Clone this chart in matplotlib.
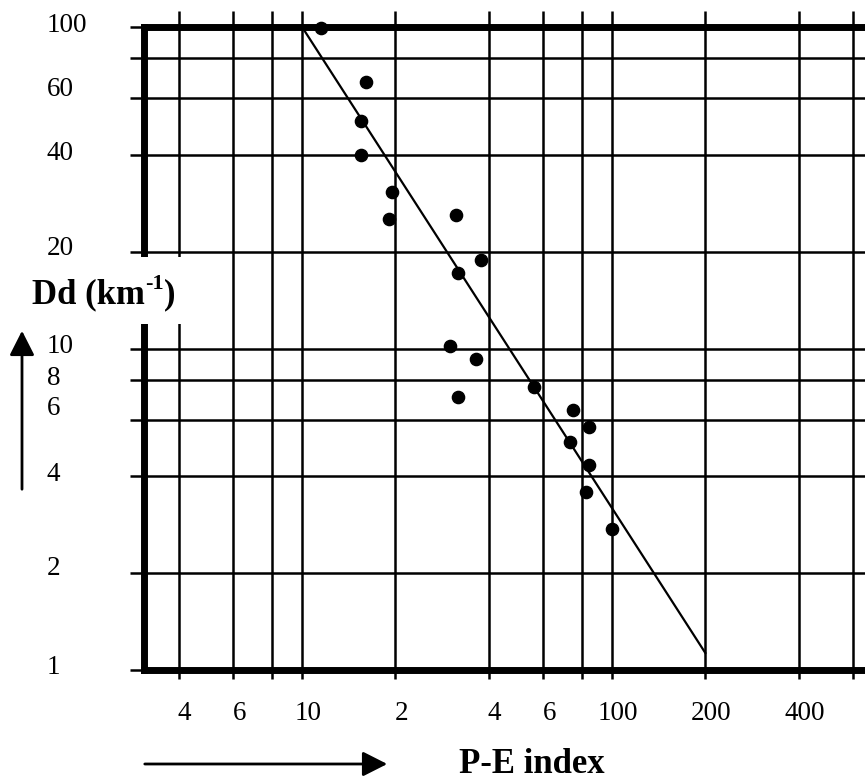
import numpy as np
import matplotlib
matplotlib.use("Agg")
import matplotlib.pyplot as plt
import matplotlib.transforms as mtransforms
from matplotlib.patches import Rectangle, FancyArrowPatch

plt.rcParams['font.family'] = ['Liberation Serif', 'DejaVu Serif']

# P-E index vs drainage density (Dd)
pe_index = [11.5, 16.1, 15.5, 15.5, 19.5, 19.1, 31.4, 37.8, 31.9, 30.0,
            36.4, 31.9, 56.0, 74.8, 84.3, 73.3, 84.3, 82.4, 100.0]
dd = [99.0, 67.5, 51.0, 40.0, 30.7, 25.2, 26.1, 18.9, 17.2, 10.2,
      9.3, 7.05, 7.57, 6.42, 5.68, 5.11, 4.33, 3.57, 2.74]

# fitted line end points
fit_x = [10, 200]
fit_y = [100, 1.13]

x_ticks = [4, 6, 8, 10, 20, 40, 60, 80, 100, 200, 400, 600]
x_labels = ["4", "6", "", "10", "2", "4", "6", "", "100", "200", "400", ""]
y_ticks = [1, 2, 4, 6, 8, 10, 20, 40, 60, 80, 100]
y_labels = ["1", "2", "4", "6", "8", "10", "20", "40", "60", "", "100"]

W, H = 865, 780
fig = plt.figure(figsize=(W / 100, H / 100), dpi=100)
ax = fig.add_axes([144 / W, 110 / H, 1 - 144 / W, (670 - 27) / H])

ax.set_xscale('log')
ax.set_yscale('log')
ax.set_xlim(3.09, 655)
ax.set_ylim(1, 100)

ax.plot(fit_x, fit_y, color='black', lw=1.6, zorder=3)
ax.plot(pe_index, dd, 'o', color='black', ms=8.8, zorder=6, clip_on=False)

ax.set_xticks(x_ticks)
ax.set_xticklabels(x_labels)
ax.set_yticks(y_ticks)
ax.set_yticklabels(y_labels)
ax.minorticks_off()

ax.grid(True, which='major', color='black', lw=1.8)
ax.tick_params(axis='x', which='major', direction='out', length=6.5, width=1.8,
               labelsize=19.5, pad=16, top=True)
ax.tick_params(axis='y', which='major', direction='out', length=10, width=1.8,
               labelsize=19.5, pad=60)
# top ticks are longer
for t in ax.xaxis.get_major_ticks():
    t.tick2line.set_markersize(11.5)

# labels sit a bit above the lines, as in the drawing (pixels up)
y_nudge = {"1": 6, "2": 8, "4": 5, "6": 14, "8": 4, "10": 5,
           "20": 6, "40": 4, "60": 12, "100": 5}
for lab in ax.get_yticklabels():
    lab.set_horizontalalignment('left')
    up = y_nudge.get(lab.get_text(), 0)
    lab.set_transform(lab.get_transform() +
                      mtransforms.ScaledTranslation(0, up / 100, fig.dpi_scale_trans))

offset = mtransforms.ScaledTranslation(6 / 100, 0, fig.dpi_scale_trans)
for lab in ax.get_xticklabels():
    lab.set_transform(lab.get_transform() + offset)

for s in ['left', 'bottom', 'top']:
    ax.spines[s].set_linewidth(5)
ax.spines['right'].set_visible(False)

# white gap in left frame for the axis label
gap = Rectangle((0, 1 - 324 / H), 205 / W, 67 / H, transform=fig.transFigure,
                facecolor='white', edgecolor='none', zorder=10)
fig.add_artist(gap)

# y label "Dd (km-1)" built from pieces so the superscript is a plain hyphen
base_y = 1 - 303 / H
t1 = fig.text(32 / W, base_y, "Dd (km", fontsize=25, fontweight='bold',
              ha='left', va='baseline', zorder=11)
fig.canvas.draw()
r = fig.canvas.get_renderer()
x1 = t1.get_window_extent(r).x1 / W
t2 = fig.text(x1, base_y + 14 / H, "-1", fontsize=16, fontweight='bold',
              ha='left', va='baseline', zorder=11)
x2 = t2.get_window_extent(r).x1 / W
fig.text(x2, base_y, ")", fontsize=25, fontweight='bold',
         ha='left', va='baseline', zorder=11)

fig.text(459 / W, 1 - 773 / H, "P-E index", fontsize=25,
         fontweight='bold', ha='left', va='baseline', zorder=11)

arr_y = FancyArrowPatch((22 / W, 1 - 492 / H), (22 / W, 1 - 328 / H),
                        transform=fig.transFigure, arrowstyle='-|>,head_length=0.75,head_width=0.38',
                        mutation_scale=20, color='black', lw=2, zorder=11)
arr_x = FancyArrowPatch((142 / W, 1 - 764 / H), (390 / W, 1 - 764 / H),
                        transform=fig.transFigure, arrowstyle='-|>,head_length=0.75,head_width=0.38',
                        mutation_scale=20, color='black', lw=2, zorder=11)
fig.add_artist(arr_y)
fig.add_artist(arr_x)

fig.savefig("out.png", dpi=100)
